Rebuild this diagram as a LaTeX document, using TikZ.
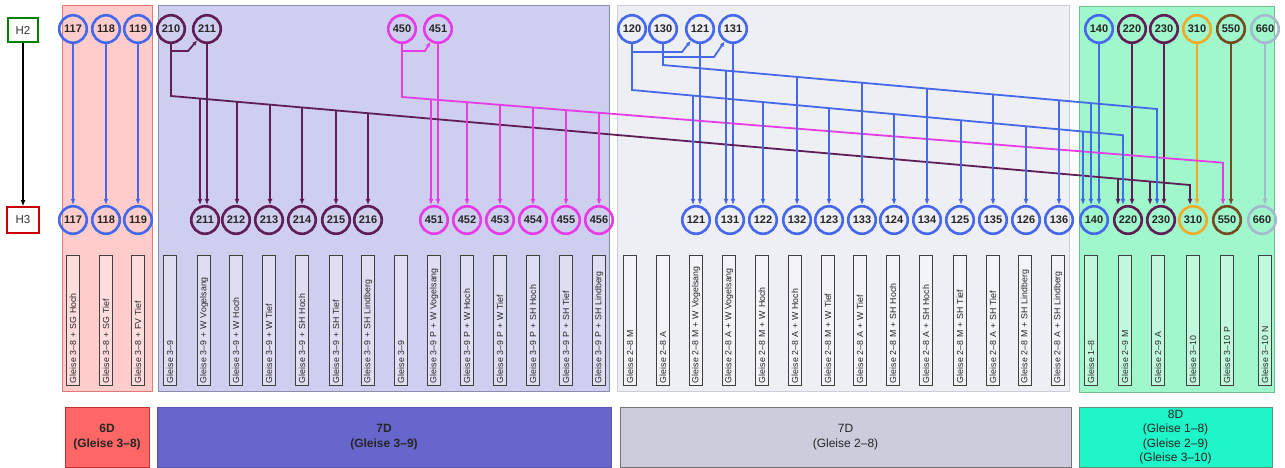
\documentclass[tikz,border=0pt]{standalone}
\usepackage{fontspec}
\setmainfont{Liberation Sans}
\usetikzlibrary{arrows.meta,calc}
\definecolor{cblue}{RGB}{70,105,235}
\definecolor{cpur}{RGB}{95,30,85}
\definecolor{cmag}{RGB}{230,60,230}
\definecolor{corg}{RGB}{240,170,40}
\definecolor{cbrn}{RGB}{115,75,35}
\definecolor{cgry}{RGB}{165,185,205}
\definecolor{pinkbg}{RGB}{255,204,204}
\definecolor{pinkbd}{RGB}{225,120,120}
\definecolor{lavbg}{RGB}{206,206,238}
\definecolor{lavbd}{RGB}{140,140,175}
\definecolor{greybg}{RGB}{238,238,245}
\definecolor{greybd}{RGB}{205,205,220}
\definecolor{greenbg}{RGB}{160,247,203}
\definecolor{greenbd}{RGB}{110,190,150}
\definecolor{sixd}{RGB}{255,102,102}
\definecolor{sixdbd}{RGB}{190,50,50}
\definecolor{sevd}{RGB}{102,102,204}
\definecolor{sevdg}{RGB}{204,204,221}
\definecolor{eightd}{RGB}{30,245,200}
\newcommand{\tapline}[5]{\draw[arr,#1] (intersection of #2--#3 and #4,0--#4,1) -- (#4,0 |- #5.north);}
\begin{document}
\begin{tikzpicture}[x=1pt,y=-1pt,
  circ/.style={circle, line width=2.6pt, minimum size=27.5pt, inner sep=0pt,
    font=\fontsize{11}{12}\selectfont\bfseries, text=black!85},
  lbl/.style={draw=black!75, fill=white, fill opacity=0.35, text opacity=1,
    line width=0.7pt, rotate=90, minimum width=130pt, minimum height=13pt,
    text width=126pt, inner xsep=2pt, inner ysep=0pt, align=left,
    font=\fontsize{8.8}{9}\selectfont, text=black!85},
  arr/.style={line width=1.8pt, -{Latex[length=6pt,width=5pt]}},
  hop/.style={line width=1.8pt, -{Latex[length=5pt,width=4.5pt]}},
  hbox/.style={draw, line width=1.6pt, fill=white, inner sep=0pt,
    font=\fontsize{11.5}{13}\selectfont, text=black!80},
  dbox/.style={line width=1pt, minimum height=60pt, align=center, inner sep=0pt,
    font=\fontsize{12}{14.5}\selectfont, text=black!85}
]
\useasboundingbox (0,0) rectangle (1285,467);

% background bands
\draw[fill=pinkbg, draw=pinkbd, line width=0.8pt] (62,5) rectangle (152,391);
\draw[fill=lavbg, draw=lavbd, line width=0.8pt] (158,5) rectangle (609,391);
\draw[fill=greybg, draw=greybd, line width=0.8pt] (617,5) rectangle (1069,391);
\draw[fill=greenbg, draw=greenbd, line width=0.8pt] (1079,6) rectangle (1274,392);

% bottom legend boxes
\node[dbox, fill=sixd, draw=sixdbd, minimum width=84pt, font=\fontsize{12}{14.5}\selectfont\bfseries] (d6) at (107,437) {6D\\(Gleise 3–8)};
\node[dbox, fill=sevd, draw=sevd!85!black, minimum width=454pt, font=\fontsize{12}{14.5}\selectfont\bfseries] (d7a) at (384,437) {7D\\(Gleise 3–9)};
\node[dbox, fill=sevdg, draw=black!55, minimum width=451pt] (d7b) at (845.5,437) {7D\\(Gleise 2–8)};
\node[dbox, fill=eightd, draw=greenbd!80!black, minimum width=193pt] (d8) at (1175.5,437) {8D\\(Gleise 1–8)\\(Gleise 2–9)\\(Gleise 3–10)};

% label boxes
\foreach \x/\t in {73/Gleise 3–8 + SG Hoch, 106/Gleise 3–8 + SG Tief, 138/Gleise 3–8 + FV Tief,
  170/Gleise 3–9, 204/Gleise 3–9 + W Vogelsang, 236/Gleise 3–9 + W Hoch, 269/Gleise 3–9 + W Tief,
  302/Gleise 3–9 + SH Hoch, 336/Gleise 3–9 + SH Tief, 368/Gleise 3–9 + SH Lindberg,
  401/Gleise 3–9, 434/Gleise 3–9 P + W Vogelsang, 467/Gleise 3–9 P + W Hoch, 500/Gleise 3–9 P + W Tief,
  533/Gleise 3–9 P + SH Hoch, 566/Gleise 3–9 P + SH Tief, 599/Gleise 3–9 P + SH Lindberg,
  630/Gleise 2–8 M, 663/Gleise 2–8 A, 696/Gleise 2–8 M + W Vogelsang, 729/Gleise 2–8 A + W Vogelsang,
  762/Gleise 2–8 M + W Hoch, 795/Gleise 2–8 A + W Hoch, 828/Gleise 2–8 M + W Tief, 860/Gleise 2–8 A + W Tief,
  893/Gleise 2–8 M + SH Hoch, 926/Gleise 2–8 A + SH Hoch, 960/Gleise 2–8 M + SH Tief, 993/Gleise 2–8 A + SH Tief,
  1025/Gleise 2–8 M + SH Lindberg, 1058/Gleise 2–8 A + SH Lindberg,
  1091/Gleise 1–8, 1125/Gleise 2–9 M, 1158/Gleise 2–9 A, 1193/Gleise 3–10, 1227/Gleise 3–10 P, 1265/Gleise 3–10 N}
  {\node[lbl] (L\x) at (\x,320) {\t};}

% H2 / H3
\node[hbox, draw=green!50!black, minimum width=30pt, minimum height=24pt] (H2) at (23,30) {H2};
\node[hbox, draw=red!80!black, minimum width=32pt, minimum height=26pt] (H3) at (23,220) {H3};
\draw[line width=1.4pt, -{Latex[length=6pt,width=5pt]}, black] (H2) -- (H3);

% top circles
\foreach \n/\x/\c in {117/73/cblue, 118/106/cblue, 119/138/cblue, 210/171/cpur, 211/207/cpur,
  450/402/cmag, 451/438/cmag, 120/632/cblue, 130/663/cblue, 121/700/cblue, 131/733/cblue,
  140/1099/cblue, 220/1132/cpur, 230/1164/cpur, 310/1197/corg, 550/1231/cbrn, 660/1265/cgry}
  {\node[circ, draw=\c] (t\n) at (\x,29) {\n};}
% bottom circles
\foreach \n/\x/\c in {117/73/cblue, 118/106/cblue, 119/138/cblue,
  211/205/cpur, 212/236/cpur, 213/269/cpur, 214/302/cpur, 215/336/cpur, 216/368/cpur,
  451/434/cmag, 452/467/cmag, 453/500/cmag, 454/533/cmag, 455/566/cmag, 456/599/cmag,
  121/696/cblue, 131/730/cblue, 122/763/cblue, 132/797/cblue, 123/829/cblue, 133/862/cblue,
  124/894/cblue, 134/927/cblue, 125/960/cblue, 135/993/cblue, 126/1026/cblue, 136/1059/cblue,
  140/1094/cblue, 220/1128/cpur, 230/1161/cpur, 310/1193/corg, 550/1227/cbrn, 660/1262/cgry}
  {\node[circ, draw=\c] (b\n) at (\x,220) {\n};}

% straight connectors
\draw[arr,cblue] (t117) -- (b117);
\draw[arr,cblue] (t118) -- (b118);
\draw[arr,cblue] (t119) -- (b119);
\foreach \n/\c in {211/cpur, 451/cmag, 121/cblue, 131/cblue, 140/cblue, 220/cpur, 230/cpur, 310/corg, 550/cbrn, 660/cgry}
  {\draw[arr,\c] (t\n) -- (t\n |- b\n.north);}

% bus coordinates
\coordinate (k210) at (171,96);  \coordinate (e210) at (1190,185);
\coordinate (k450) at (402,97);  \coordinate (e450) at (1223,162.7);
\coordinate (k120) at (632,90);  \coordinate (e120) at (1123,135.2);
\coordinate (k130) at (663,65);  \coordinate (e130) at (1157,109);

% 210
\draw[hop,cpur] (t210.south) -- ++(0,7) -- (188,51) -- (t211);
\draw[arr,cpur] (t210.south) -- (k210) -- (e210) -- (e210 |- b310.north);
\tapline{cpur}{k210}{e210}{200}{b211}
\tapline{cpur}{k210}{e210}{237}{b212}
\tapline{cpur}{k210}{e210}{270}{b213}
\tapline{cpur}{k210}{e210}{302}{b214}
\tapline{cpur}{k210}{e210}{336}{b215}
\tapline{cpur}{k210}{e210}{368}{b216}
\tapline{cpur}{k210}{e210}{1118}{b220}
\tapline{cpur}{k210}{e210}{1150}{b230}

% 450
\draw[hop,cmag] (t450.south) -- ++(0,7) -- (425,51) -- (t451);
\draw[arr,cmag] (t450.south) -- (k450) -- (e450) -- (e450 |- b550.north);
\tapline{cmag}{k450}{e450}{431}{b451}
\tapline{cmag}{k450}{e450}{467}{b452}
\tapline{cmag}{k450}{e450}{500}{b453}
\tapline{cmag}{k450}{e450}{533}{b454}
\tapline{cmag}{k450}{e450}{566}{b455}
\tapline{cmag}{k450}{e450}{599}{b456}

% 120
\draw[hop,cblue] (t120.south) -- ++(0,8) -- (682,52) -- (t121);
\draw[arr,cblue] (t120.south) -- (k120) -- (e120) -- (e120 |- b220.north);
\tapline{cblue}{k120}{e120}{693}{b121}
\tapline{cblue}{k120}{e120}{763}{b122}
\tapline{cblue}{k120}{e120}{829}{b123}
\tapline{cblue}{k120}{e120}{894}{b124}
\tapline{cblue}{k120}{e120}{961}{b125}
\tapline{cblue}{k120}{e120}{1026}{b126}
\tapline{cblue}{k120}{e120}{1083}{b140}

% 130
\draw[hop,cblue] (t130.south) -- ++(0,13) -- (714,57) -- (t131);
\draw[arr,cblue] (t130.south) -- (k130) -- (e130) -- (e130 |- b230.north);
\tapline{cblue}{k130}{e130}{726}{b131}
\tapline{cblue}{k130}{e130}{797}{b132}
\tapline{cblue}{k130}{e130}{862}{b133}
\tapline{cblue}{k130}{e130}{927}{b134}
\tapline{cblue}{k130}{e130}{993}{b135}
\tapline{cblue}{k130}{e130}{1059}{b136}
\tapline{cblue}{k130}{e130}{1091}{b140}
\end{tikzpicture}
\end{document}
